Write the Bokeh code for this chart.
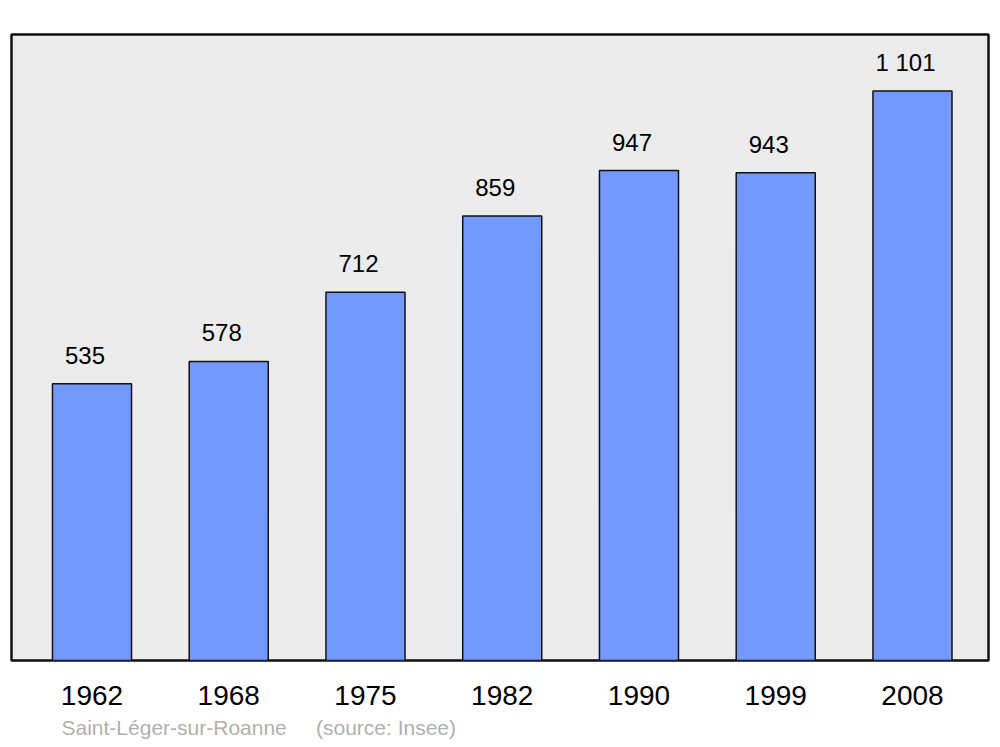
from bokeh.plotting import figure
from bokeh.models import ColumnDataSource, FixedTicker, Range1d, Title, LabelSet
from bokeh.core.properties import value
from bokeh.embed import file_html
from bokeh.resources import INLINE

years = ["1962", "1968", "1975", "1982", "1990", "1999", "2008"]
population = [535, 578, 712, 859, 947, 943, 1101]
value_labels = ["535", "578", "712", "859", "947", "943", "1 101"]

idx = list(range(len(years)))
src = ColumnDataSource(dict(x=idx, top=population, lab=value_labels))

p = figure(frame_width=977, frame_height=626, output_backend="svg", toolbar_location=None,
           x_range=Range1d(-0.5887, 6.556), y_range=Range1d(0, 1210),
           min_border_left=11, min_border_right=10, min_border_top=34, min_border_bottom=8)

p.background_fill_color = "#ececec"
p.border_fill_color = "white"
p.outline_line_color = "#111111"
p.outline_line_width = 2.5
p.xgrid.visible = False
p.ygrid.visible = False
p.yaxis.visible = False

p.vbar(x="x", top="top", width=0.578, bottom=0, source=src,
       fill_color="#7399ff", line_color="#111111", line_width=1.5)

labels = LabelSet(x="x", y="top", text="lab", source=src, text_align="center",
                  text_baseline="alphabetic", x_offset=-7, y_offset=20,
                  text_font=value("Liberation Sans"), text_font_size="24px", text_color="black")
p.add_layout(labels)

ax = p.xaxis[0]
ax.ticker = FixedTicker(ticks=idx)
ax.major_label_overrides = {i: y for i, y in zip(idx, years)}
ax.axis_line_color = None
ax.major_tick_line_color = None
ax.minor_tick_line_color = None
ax.major_tick_out = 0
ax.major_label_standoff = 25
ax.major_label_text_font = "Liberation Sans"
ax.major_label_text_font_size = "28px"
ax.major_label_text_color = "black"

t = Title(text="Saint-L\u00e9ger-sur-Roanne\u00a0\u00a0\u00a0\u00a0\u00a0(source: Insee)", align="left",
          offset=50, text_font="Liberation Sans", text_font_size="21px",
          text_color="#b0b0b0", text_font_style="normal", standoff=13)
p.add_layout(t, "below")

open("out.html", "w").write(file_html(p, INLINE))
